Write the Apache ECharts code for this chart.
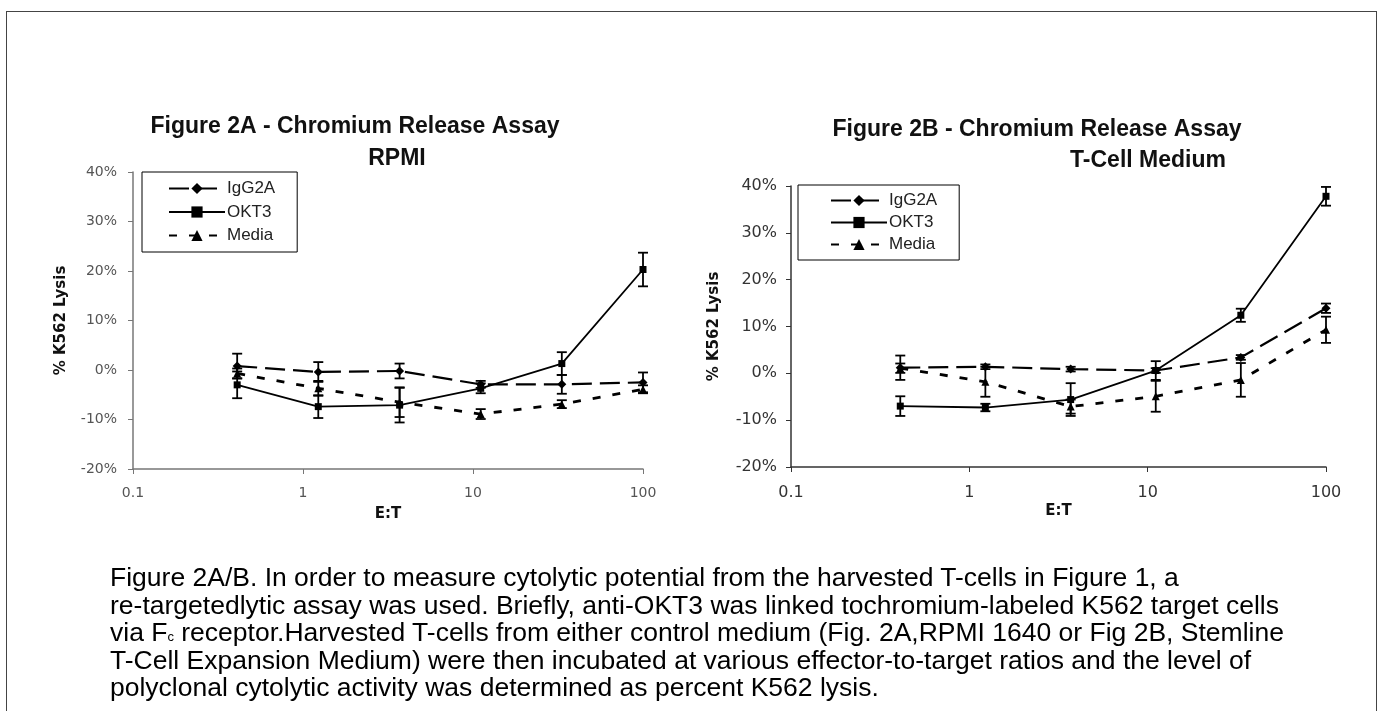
<!DOCTYPE html>
<html>
<head>
<meta charset="utf-8">
<script src="https://cdn.jsdelivr.net/npm/echarts@6/dist/echarts.min.js"></script>
<style>
  html, body { margin: 0; padding: 0; background: #fff; overflow: hidden; }
  #frame { position: absolute; left: 6px; top: 11px; width: 1369px; height: 720px; border: 1px solid #444; }
  #chart { position: absolute; left: 0; top: 0; width: 1380px; height: 711px; }
  #caption {
    position: absolute; left: 110px; top: 564px;
    font-family: "Liberation Sans", Arial, sans-serif; font-size: 26.5px; line-height: 27.5px; color: #000;
    white-space: nowrap;
  }
  #caption sub { font-size: 13px; line-height: 0; vertical-align: baseline; }
</style>
</head>
<body>
<div id="frame"></div>
<div id="chart"></div>
<div id="caption">
Figure 2A/B. In order to measure cytolytic potential from the harvested T-cells in Figure 1, a<br>
re-targetedlytic assay was used. Briefly, anti-OKT3 was linked tochromium-labeled K562 target cells<br>
via F<sub>c</sub> receptor.Harvested T-cells from either control medium (Fig. 2A,RPMI 1640 or Fig 2B, Stemline<br>
T-Cell Expansion Medium) were then incubated at various effector-to-target ratios and the level of<br>
polyclonal cytolytic activity was determined as percent K562 lysis.
</div>
<script>
// E:T ratios (3-fold dilutions)
const etRatio = [0.41, 1.23, 3.7, 11.1, 33.3, 100];
const seriesNames = ['IgG2A', 'OKT3', 'Media'];

// Figure 2A - RPMI (% lysis, +/- error)
const rpmiIgG2A = [0.8, -0.4, -0.2, -2.9, -2.9, -2.5];
const rpmiIgG2AErr = [2.5, 2.0, 1.5, 0.7, 1.9, 2.0];
const rpmiOKT3 = [-3.0, -7.4, -7.1, -3.7, 1.3, 20.3];
const rpmiOKT3Err = [2.7, 2.3, 3.5, 1.0, 2.3, 3.4];
const rpmiMedia = [-0.7, -3.7, -6.5, -8.9, -6.9, -3.9];
const rpmiMediaErr = [1.0, 1.5, 3.0, 1.0, 0.8, 0.8];

// Figure 2B - T-Cell Medium
const tcmIgG2A = [1.2, 1.4, 0.9, 0.6, 3.4, 13.9];
const tcmIgG2AErr = [2.6, 0.5, 0.5, 0.5, 0.5, 1.0];
const tcmOKT3 = [-7.0, -7.3, -5.6, 0.6, 12.4, 37.8];
const tcmOKT3Err = [2.1, 0.8, 3.5, 2.0, 1.4, 2.0];
const tcmMedia = [1.1, -1.8, -7.1, -4.9, -1.4, 9.3];
const tcmMediaErr = [1.0, 3.2, 1.5, 3.3, 3.6, 2.8];

const FONT = '"Liberation Sans", Arial, sans-serif';
const TICKFONT = '"DejaVu Sans", sans-serif';

const styles = {
  IgG2A: { symbol: 'diamond', size: 9, type: [20, 8], width: 2.2 },
  OKT3: { symbol: 'rect', size: 7, type: 'solid', width: 1.8 },
  Media: { symbol: 'triangle', size: 8, type: [8, 12], width: 2.8 }
};

function lineSeries(name, idx, vals) {
  const s = styles[name];
  return {
    name: name, type: 'line', xAxisIndex: idx, yAxisIndex: idx,
    data: etRatio.map((x, i) => [x, vals[i]]),
    symbol: s.symbol, symbolSize: s.size,
    itemStyle: { color: '#000' },
    lineStyle: { color: '#000', width: s.width, type: s.type },
    z: 3
  };
}

function errorSeries(idx, vals, errs) {
  return {
    type: 'custom', xAxisIndex: idx, yAxisIndex: idx,
    data: etRatio.map((x, i) => [x, vals[i] - errs[i], vals[i] + errs[i]]),
    encode: { x: 0, y: [1, 2] },
    renderItem: function (params, api) {
      const lo = api.coord([api.value(0), api.value(1)]);
      const hi = api.coord([api.value(0), api.value(2)]);
      const w = 5;
      const st = { stroke: '#000', lineWidth: 1.8 };
      return {
        type: 'group',
        children: [
          { type: 'line', shape: { x1: lo[0], y1: lo[1], x2: hi[0], y2: hi[1] }, style: st },
          { type: 'line', shape: { x1: lo[0] - w, y1: lo[1], x2: lo[0] + w, y2: lo[1] }, style: st },
          { type: 'line', shape: { x1: hi[0] - w, y1: hi[1], x2: hi[0] + w, y2: hi[1] }, style: st }
        ]
      };
    },
    z: 2
  };
}

function xAxis(idx, gap, labelColor, labelSize, lineColor, margin) {
  return {
    type: 'log', logBase: 10, gridIndex: idx, min: 0.1, max: 100,
    name: 'E:T', nameLocation: 'middle', nameGap: gap,
    nameTextStyle: { fontFamily: TICKFONT, fontWeight: 'bold', fontSize: 15, color: '#111' },
    axisLine: { onZero: false, lineStyle: { color: lineColor, width: 1.5 } },
    axisTick: { length: 5, lineStyle: { color: lineColor } },
    axisLabel: { color: labelColor, fontSize: labelSize, fontFamily: TICKFONT, margin: margin },
    splitLine: { show: false }, minorTick: { show: false }
  };
}

function yAxis(idx, gap, labelColor, labelSize, lineColor, margin) {
  return {
    type: 'value', gridIndex: idx, min: -20, max: 40, interval: 10,
    name: '% K562 Lysis', nameLocation: 'middle', nameGap: gap, nameRotate: 90,
    nameTextStyle: { fontFamily: TICKFONT, fontWeight: 'bold', fontSize: 15, color: '#111' },
    axisLine: { show: true, onZero: false, lineStyle: { color: lineColor, width: 1.5 } },
    axisTick: { show: true, length: 5, lineStyle: { color: lineColor } },
    axisLabel: { color: labelColor, fontSize: labelSize, fontFamily: TICKFONT, margin: margin, formatter: '{value}%' },
    splitLine: { show: false }
  };
}

function legend(left, top, pad, gap) {
  return {
    left: left, top: top, orient: 'vertical', data: seriesNames,
    itemWidth: 56, itemHeight: 14, itemGap: gap, padding: pad,
    borderColor: '#000', borderWidth: 1, backgroundColor: '#fff',
    textStyle: { fontFamily: FONT, fontSize: 17, lineHeight: 14, color: '#222', padding: [0, 0, 0, -3] },
    selectedMode: false
  };
}

function title(text, x, y) {
  return {
    type: 'text', x: x, y: y,
    style: { text: text, fontFamily: FONT, fontWeight: 'bold', fontSize: 23, fill: '#111', align: 'center', verticalAlign: 'middle' }
  };
}

const chart = echarts.init(document.getElementById('chart'));
chart.setOption({
  animation: false,
  grid: [
    { left: 133, top: 172, width: 510, height: 297 },
    { left: 791, top: 186, width: 535, height: 281 }
  ],
  xAxis: [xAxis(0, 38, '#555', 14, '#777', 17), xAxis(1, 37, '#333', 16, '#333', 18)],
  yAxis: [yAxis(0, 64, '#555', 14, '#777', 16), yAxis(1, 69, '#333', 16, '#333', 14)],
  legend: [legend(142, 172, [8, 22, 8, 26], 6.5), legend(798, 185, [7, 22, 7, 32], 5)],
  graphic: [
    title('Figure 2A - Chromium Release Assay', 355, 127),
    title('RPMI', 397, 159),
    title('Figure 2B - Chromium Release Assay', 1037, 130),
    title('T-Cell Medium', 1148, 161)
  ],
  series: [
    errorSeries(0, rpmiIgG2A, rpmiIgG2AErr),
    errorSeries(0, rpmiOKT3, rpmiOKT3Err),
    errorSeries(0, rpmiMedia, rpmiMediaErr),
    lineSeries('IgG2A', 0, rpmiIgG2A),
    lineSeries('OKT3', 0, rpmiOKT3),
    lineSeries('Media', 0, rpmiMedia),
    errorSeries(1, tcmIgG2A, tcmIgG2AErr),
    errorSeries(1, tcmOKT3, tcmOKT3Err),
    errorSeries(1, tcmMedia, tcmMediaErr),
    lineSeries('IgG2A', 1, tcmIgG2A),
    lineSeries('OKT3', 1, tcmOKT3),
    lineSeries('Media', 1, tcmMedia)
  ]
});
</script>
</body>
</html>
